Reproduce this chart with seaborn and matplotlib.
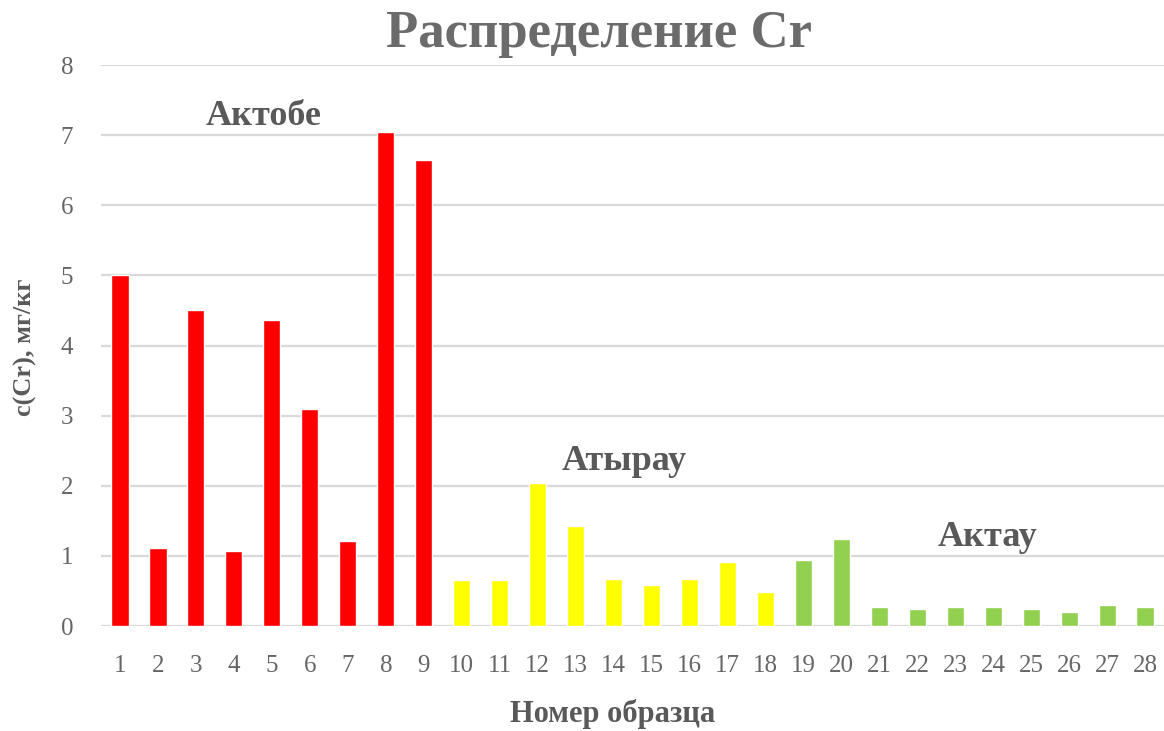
import numpy as np
import pandas as pd
import seaborn as sns
import matplotlib.pyplot as plt

# ======= данные
samples = [str(i) for i in range(1, 29)]
cr_values = [5.0, 1.11, 4.5, 1.07, 4.36, 3.1, 1.21, 7.05, 6.65,
             0.66, 0.66, 2.04, 1.42, 0.67, 0.58, 0.67, 0.91, 0.49,
             0.94, 1.24, 0.27, 0.24, 0.27, 0.27, 0.24, 0.2, 0.3, 0.27]
regions = ["Актобе"] * 9 + ["Атырау"] * 9 + ["Актау"] * 10
region_colors = {"Актобе": "#FF0000", "Атырау": "#FFFF00", "Актау": "#92D050"}
region_labels = ["Актобе", "Атырау", "Актау"]
label_pos = [(3.77, 7.26), (13.28, 2.34), (22.84, 1.26)]

grey = "#595959"


def main():
    df = pd.DataFrame({"sample": samples, "cr": cr_values, "region": regions})

    sns.set_style("white")
    plt.rcParams["font.family"] = ["Liberation Serif", "DejaVu Serif"]

    fig = plt.figure(figsize=(11.64, 7.31), dpi=100)
    ax = fig.add_axes([0.0868, 0.1436, 0.9132, 0.7674])

    sns.barplot(data=df, x="sample", y="cr", hue="region", palette=region_colors,
                order=samples, dodge=False, width=0.45, legend=False, ax=ax,
                saturation=1)

    ax.set_ylim(0, 8)
    ax.set_xlim(-0.5, 27.5)
    ax.set_yticks(range(0, 9))
    ax.yaxis.grid(True, color="#d9d9d9", linewidth=1.6)
    ax.set_axisbelow(True)
    for s in ax.spines.values():
        s.set_visible(False)
    ax.tick_params(axis="both", length=0, labelsize=18, labelcolor="#666666")
    ax.tick_params(axis="y", pad=20)
    ax.tick_params(axis="x", pad=21)

    ax.set_xlabel("Номер образца", fontsize=22, fontweight="bold", color=grey)
    ax.set_ylabel("c(Cr), мг/кг", fontsize=19, fontweight="bold", color=grey)
    ax.xaxis.label.set_va("center")
    ax.yaxis.label.set_va("center")
    ax.xaxis.set_label_coords(0.481, -0.157)
    ax.yaxis.set_label_coords(-0.0715, 0.497)

    fig.text(0.515, 0.953, "Распределение Cr", ha="center", va="center",
             fontsize=38, fontweight="bold", color="#6b6b6b")

    for name, (xx, yy) in zip(region_labels, label_pos):
        ax.text(xx, yy, name, ha="center", va="center", fontsize=26,
                fontweight="bold", color=grey)

    fig.savefig("out.png", dpi=100)


if __name__ == "__main__":
    main()
